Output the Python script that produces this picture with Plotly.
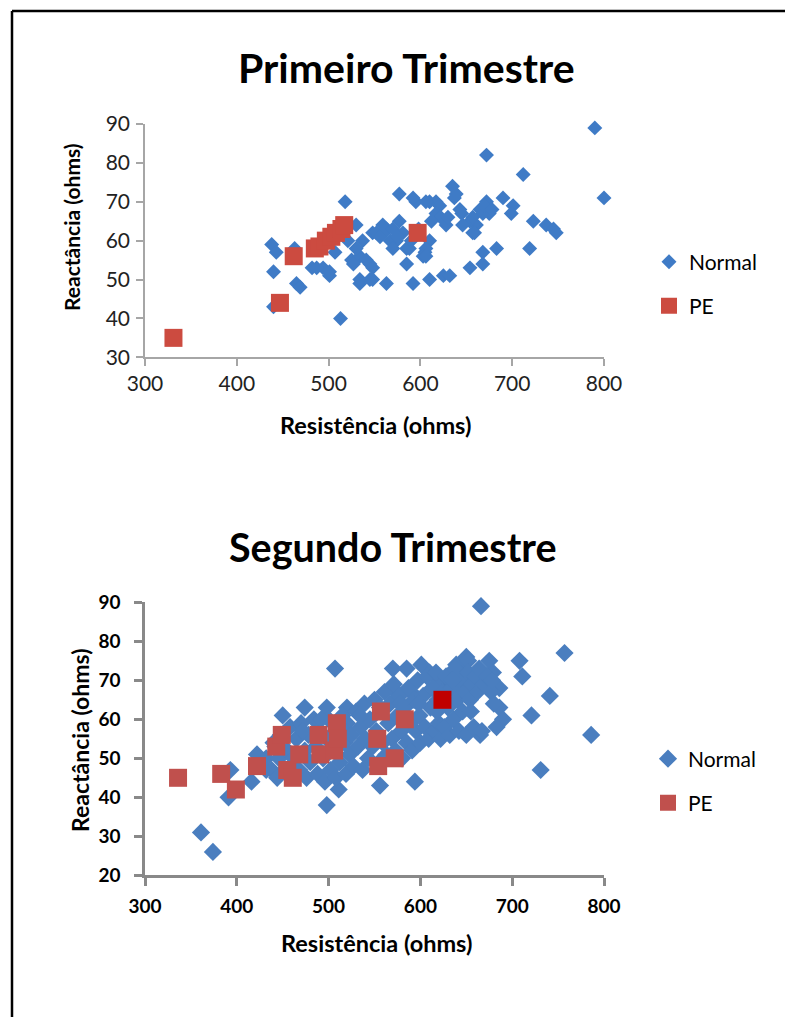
import plotly.graph_objects as go

# ---------------- Data: Primeiro Trimestre ----------------
t1_normal_x = [790, 800, 672, 712, 438, 443, 440, 463, 465, 469, 440, 482, 494, 501, 507,
               518, 530, 513, 525, 534, 534, 545, 545, 548, 559, 563, 574, 577, 585, 592,
               595, 605, 610, 625, 617, 635, 628, 610, 690, 701, 699, 723, 737, 745, 748,
               719, 683, 668, 668, 654, 672, 668, 661, 654, 657, 637, 646, 632, 639, 610,
               621, 643, 657, 675, 659, 606, 603, 592, 606, 617, 577, 537, 567, 581, 570,
               588, 606, 585, 530, 527, 541, 548, 534, 548, 487, 501, 552, 560, 556, 563,
               570, 575, 590, 598, 622, 612, 630, 645, 665, 670, 678, 521]
t1_normal_y = [89, 71, 82, 77, 59, 57, 52, 58, 49, 48, 43, 53, 53, 51, 57,
               70, 64, 40, 55, 56, 49, 54, 50, 62, 64, 49, 60, 72, 58, 49,
               70, 57, 50, 51, 70, 74, 64, 60, 71, 69, 67, 65, 64, 63, 62,
               58, 58, 57, 54, 53, 70, 67, 64, 65, 62, 71, 64, 51, 72, 70,
               69, 68, 66, 67, 62, 58, 56, 71, 70, 67, 65, 60, 60, 62, 58,
               58, 56, 54, 58, 54, 55, 53, 50, 50, 53, 52, 62, 62, 61, 63,
               63, 61, 60, 63, 66, 65, 66, 67, 68, 69, 68, 60]
t1_pe_x = [331, 447, 462, 485, 490, 497, 503, 508, 514, 517, 597]
t1_pe_y = [35, 44, 56, 58, 58.5, 60, 61, 62, 63, 64, 62]

# ---------------- Data: Segundo Trimestre ----------------
t2_normal_x = [361, 374, 391, 393, 416, 498, 511, 556, 594, 507, 450, 474, 498, 520, 570,
               585, 601, 610, 625, 639, 643, 650, 652, 675, 708, 711, 741, 721, 786, 731,
               757, 666, 686, 686, 690, 683, 665, 679, 574, 590, 621, 422, 432, 442,
               432, 438, 440, 446, 448, 452, 455, 458, 444,
               462, 465, 468, 470, 474, 476, 478, 480, 484,
               486, 488, 490, 494, 496, 498, 500, 502,
               505, 508, 510, 512, 515, 517, 519, 520,
               523, 525, 527, 530, 532, 535, 537, 539, 540,
               543, 545, 548, 550, 552, 555, 557, 559, 561,
               563, 565, 567, 569, 571, 573, 575, 577, 579, 580,
               583, 585, 587, 589, 591, 593, 595, 597, 599, 600,
               603, 605, 607, 609, 611, 613, 615, 617, 619, 620,
               622, 624, 626, 628, 630, 632, 634, 636, 638, 640,
               642, 644, 646, 648, 650, 652, 654, 656, 658, 660,
               662, 664, 667, 669, 673, 677, 680, 678,
               472, 492, 513, 534, 556, 578, 598, 618, 635, 655]
t2_normal_y = [31, 26, 40, 47, 44, 38, 42, 43, 44, 73, 61, 63, 63, 63, 73,
               73, 74, 72, 70, 74, 74, 76, 75, 75, 75, 71, 66, 61, 56, 47,
               77, 89, 68, 63, 60, 58, 56, 72, 67, 67, 70, 51, 47, 53,
               50, 47, 54, 50, 56, 47, 52, 58, 45,
               50, 55, 47, 59, 52, 45, 56, 49, 60,
               53, 46, 57, 50, 44, 55, 60, 47,
               52, 45, 57, 49, 61, 54, 46, 59,
               51, 56, 48, 62, 53, 58, 47, 64, 55,
               50, 60, 53, 65, 57, 49, 62, 54, 67,
               51, 59, 64, 55, 69, 52, 61, 66, 57, 50,
               63, 54, 68, 59, 52, 65, 57, 70, 61, 54,
               66, 58, 71, 55, 63, 68, 57, 72, 65, 59,
               55, 67, 58, 71, 63, 56, 68, 60, 73, 65,
               57, 70, 62, 67, 56, 72, 65, 69, 58, 71,
               67, 73, 57, 69, 71, 67, 64, 70,
               57, 60, 58, 61, 63, 64, 64, 62, 70, 62]
t2_pe_x = [336, 383, 399, 422, 443, 449, 455, 461, 468, 489, 491, 506, 509, 510,
           553, 554, 557, 572, 583, 624]
t2_pe_y = [45, 46, 42, 48, 53, 56, 47, 45, 51, 56, 51, 52, 59, 55,
           55, 48, 62, 50, 60, 65]
t2_pe_colors = ['#C0504D'] * 19 + ['#C00000']

FONT = "Lato"
W, H = 785, 1017


def px_x(p):
    return p / W


def px_y(p):
    return 1 - p / H


fig = go.Figure()

# Chart 1 traces
fig.add_trace(go.Scatter(x=t1_normal_x, y=t1_normal_y, mode="markers", name="Normal",
                         marker=dict(symbol="diamond", size=11.5, color="#3F7BC6"),
                         xaxis="x", yaxis="y", legend="legend", cliponaxis=False))
fig.add_trace(go.Scatter(x=t1_pe_x, y=t1_pe_y, mode="markers", name="PE",
                         marker=dict(symbol="square", size=18, color="#CC4B40"),
                         xaxis="x", yaxis="y", legend="legend2", cliponaxis=False))
# Chart 2 traces
fig.add_trace(go.Scatter(x=t2_normal_x, y=t2_normal_y, mode="markers", name="Normal",
                         marker=dict(symbol="diamond", size=14, color="#4A7EBF"),
                         xaxis="x2", yaxis="y2", legend="legend3", cliponaxis=False))
fig.add_trace(go.Scatter(x=t2_pe_x, y=t2_pe_y, mode="markers", name="PE",
                         marker=dict(symbol="square", size=18, color=t2_pe_colors),
                         xaxis="x2", yaxis="y2", legend="legend4", cliponaxis=False))

xdom = [px_x(145), px_x(604)]

axis1 = dict(showgrid=False, zeroline=False, showline=True, linecolor="#A6A6A6", linewidth=1.5,
             ticks="outside", tickcolor="#A6A6A6", tickwidth=1.5, ticklen=7, automargin=False,
             tickfont=dict(family=FONT, size=21, color="#222222"))
axis2 = dict(showgrid=False, zeroline=False, showline=True, linecolor="#898989", linewidth=2.5,
             ticks="outside", tickcolor="#898989", tickwidth=2.5, ticklen=8, automargin=False,
             tickfont=dict(family=FONT, size=19, color="#000000", weight="bold"))

fig.update_layout(
    width=W, height=H, margin=dict(l=0, r=0, t=0, b=0, autoexpand=False),
    paper_bgcolor="white", plot_bgcolor="white",
    xaxis=dict(axis1, domain=xdom, range=[300, 800], tickvals=[300, 400, 500, 600, 700, 800],
               anchor="y", ticklabelstandoff=0),
    yaxis=dict(axis1, domain=[px_y(357.3), px_y(124)], range=[30, 90],
               tickvals=[30, 40, 50, 60, 70, 80, 90], anchor="x", ticklabelstandoff=2),
    xaxis2=dict(axis2, domain=xdom, range=[300, 800], tickvals=[300, 400, 500, 600, 700, 800],
                anchor="y2", ticklabelstandoff=4),
    yaxis2=dict(axis2, domain=[px_y(875.3), px_y(602.3)], range=[20, 90],
                tickvals=[20, 30, 40, 50, 60, 70, 80, 90], anchor="x2", ticklabelstandoff=10),
    showlegend=True,
)

leg_common = dict(xanchor="left", yanchor="middle", bgcolor="rgba(0,0,0,0)",
                  font=dict(family=FONT, size=21, color="#000000"), borderwidth=0)
fig.update_layout(
    legend=dict(leg_common, x=px_x(649), y=px_y(262)),
    legend2=dict(leg_common, x=px_x(649), y=px_y(306)),
    legend3=dict(leg_common, x=px_x(648), y=px_y(759)),
    legend4=dict(leg_common, x=px_x(648), y=px_y(803)),
)

annots = [
    dict(text="<b>Primeiro Trimestre</b>", x=px_x(406), y=px_y(68), size=41),
    dict(text="<b>Segundo Trimestre</b>", x=px_x(393), y=px_y(546), size=39.5),
    dict(text="<b>Resistência (ohms)</b>", x=px_x(375), y=px_y(425), size=23.5),
    dict(text="<b>Resistência (ohms)</b>", x=px_x(376), y=px_y(943), size=23.5),
]
for a in annots:
    fig.add_annotation(text=a["text"], x=a["x"], y=a["y"], xref="paper", yref="paper",
                       xanchor="center", yanchor="middle", showarrow=False,
                       font=dict(family=FONT, size=a["size"], color="#000000"))
for (xx, yy, sz) in [(72, 227, 21), (80, 741, 23)]:
    fig.add_annotation(text="<b>Reactância (ohms)</b>", x=px_x(xx), y=px_y(yy), xref="paper",
                       yref="paper", xanchor="center", yanchor="middle", showarrow=False,
                       textangle=-90, font=dict(family=FONT, size=sz, color="#000000"))

# Outer frame (top and left edges)
fig.add_shape(type="line", xref="paper", yref="paper", x0=px_x(12), x1=1, y0=px_y(11), y1=px_y(11),
              line=dict(color="#000000", width=2.5))
fig.add_shape(type="line", xref="paper", yref="paper", x0=px_x(12), x1=px_x(12), y0=px_y(11), y1=0,
              line=dict(color="#000000", width=2.5))

fig.write_html("out.html", config={"displayModeBar": False},
               post_script="document.body.style.margin='0px';")
